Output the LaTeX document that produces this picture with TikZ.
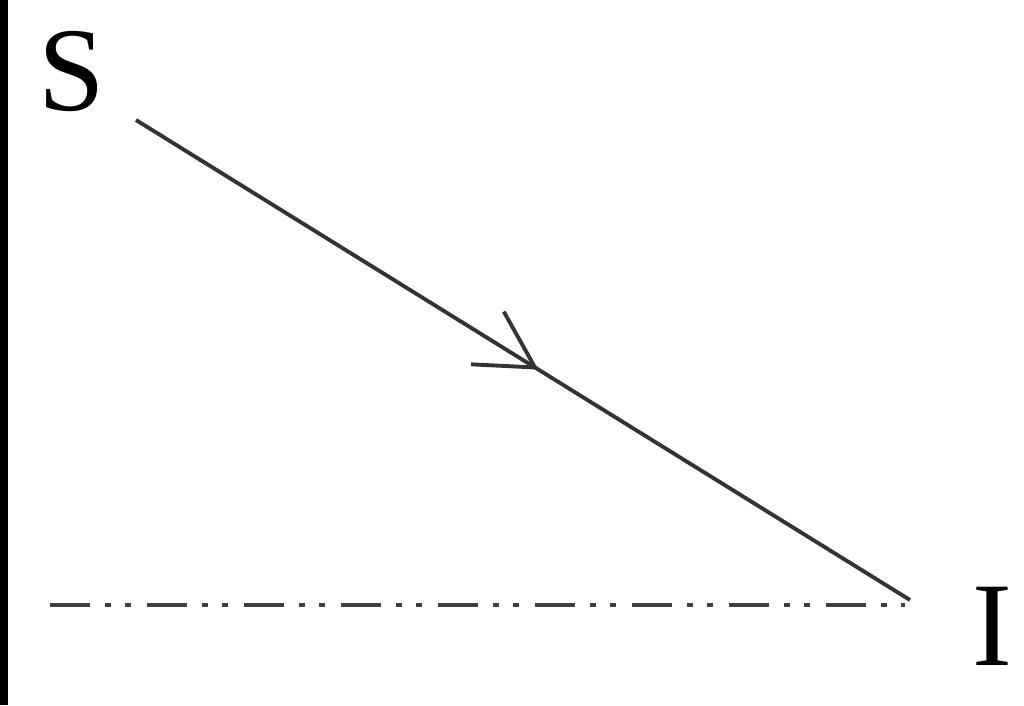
\documentclass[tikz,border=0pt]{standalone}
\usepackage{fontspec}
\setmainfont{Liberation Serif}
\usetikzlibrary{arrows.meta,decorations.markings}

\begin{document}
\begin{tikzpicture}[x=0.01cm, y=-0.01cm,
        lbl/.style={font=\fontsize{34}{40}\selectfont, inner sep=0pt},
        ray/.style={line width=1.1pt, draw=black!80, postaction={decorate},
            decoration={markings, mark=at position 0.52 with {\arrow{Straight Barb[length=0.56cm, width=0.62cm, line width=1.1pt]}}}},
        axis/.style={line width=1.3pt, draw=black!75,
            dash pattern=on 0.4cm off 0.15cm on 0.06cm off 0.14cm on 0.06cm off 0.16cm}]

        \useasboundingbox (0,0) rectangle (1024,705);

        % Left border
        \fill[black] (0,0) rectangle (8,705);

        % Labels
        \node[lbl] (S) at (72,71) {S};
        \node[lbl] (I) at (992,626) {I};

        % End points
        \coordinate (start) at (136,120);
        \coordinate (hit) at (910,600);
        \coordinate (left) at (50,605);
        \coordinate (right) at (905,605);

        % Incident ray and surface
        \draw[ray] (start) -- (hit);
        \draw[axis] (left) -- (right);

    \end{tikzpicture}
\end{document}
